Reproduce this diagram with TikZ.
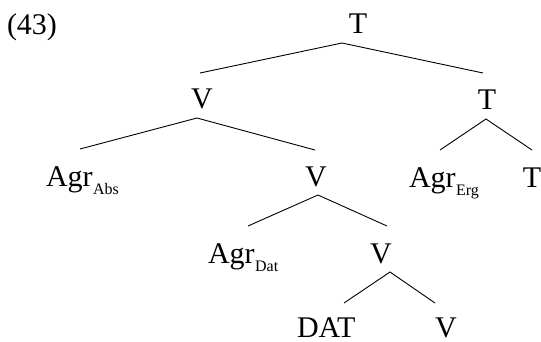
\documentclass[tikz,border=0pt]{standalone}
\usepackage{fontspec}
\setmainfont{Liberation Serif}
\newcommand{\subtxt}[1]{\kern0.5pt\raisebox{-8.5pt}{\fontsize{16}{16}\selectfont #1}}
\begin{document}
\begin{tikzpicture}[x=1pt,y=-1pt,
  lab/.style={inner sep=0pt,outer sep=0pt,font=\fontsize{30}{34}\selectfont},
  branch/.style={line width=0.9pt}]
\useasboundingbox (0,0) rectangle (541,341);
% label
\node[lab,anchor=base west] (ex) at (7,34) {(43)};
% nodes
\node[lab,anchor=base] (T1) at (358,33) {T};
\node[lab,anchor=base] (V2) at (202,108) {V};
\node[lab,anchor=base] (T2) at (487,109) {T};
\node[lab,anchor=base west] (Abs) at (46,186) {Agr\subtxt{Abs}};
\node[lab,anchor=base] (V3) at (316,186) {V};
\node[lab,anchor=base west] (Erg) at (409,187) {Agr\subtxt{Erg}};
\node[lab,anchor=base] (T3) at (532,187) {T};
\node[lab,anchor=base west] (Dat) at (208,263) {Agr\subtxt{Dat}};
\node[lab,anchor=base] (V4) at (381,263) {V};
\node[lab,anchor=base west] (DAT) at (297,337) {DAT};
\node[lab,anchor=base] (V5) at (446,337) {V};
% branch points
\coordinate (T1b) at (342,43);
\coordinate (V2t) at (200,73);
\coordinate (T2t) at (483,73);
\coordinate (V2b) at (197,118);
\coordinate (Abst) at (80,149);
\coordinate (V3t) at (315,150);
\coordinate (T2b) at (486,119);
\coordinate (Ergt) at (440,150);
\coordinate (T3t) at (532,150);
\coordinate (V3b) at (318,195);
\coordinate (Datt) at (248,226);
\coordinate (V4t) at (387,226);
\coordinate (V4b) at (390,272);
\coordinate (DATt) at (344,303);
\coordinate (V5t) at (435,303);
% branches
\draw[branch] (V2t) -- (T1b) -- (T2t);
\draw[branch] (Abst) -- (V2b) -- (V3t);
\draw[branch] (Ergt) -- (T2b) -- (T3t);
\draw[branch] (Datt) -- (V3b) -- (V4t);
\draw[branch] (DATt) -- (V4b) -- (V5t);
\end{tikzpicture}
\end{document}
